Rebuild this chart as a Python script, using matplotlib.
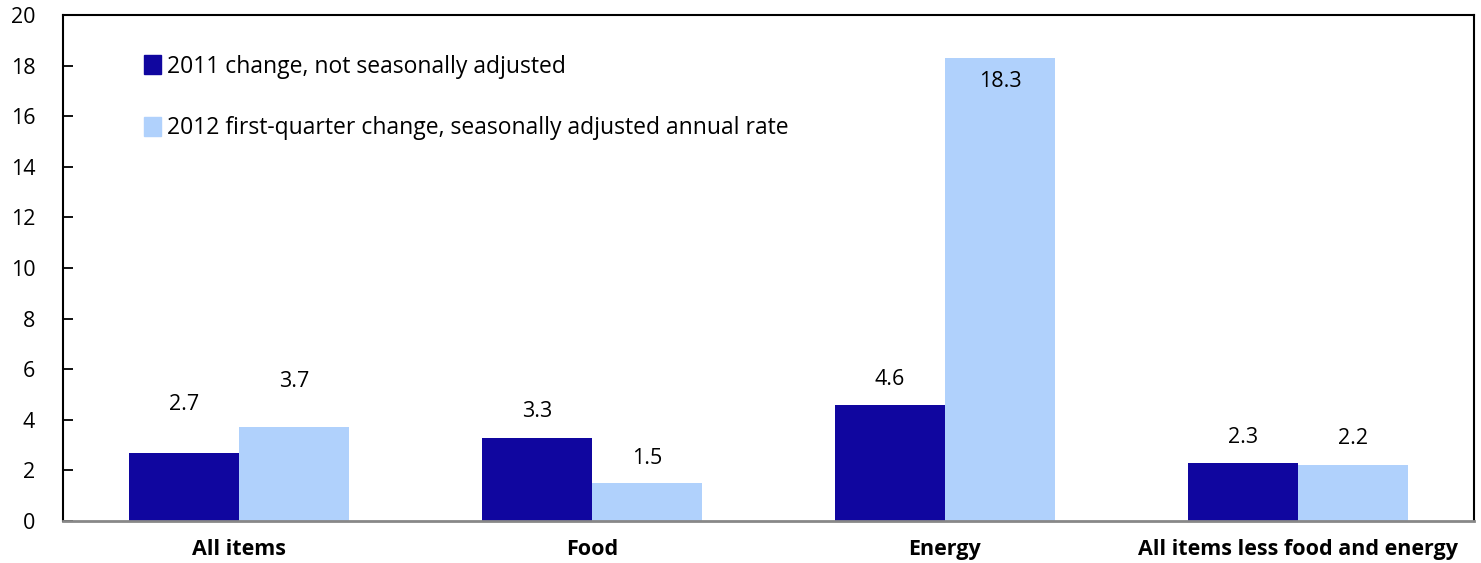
import numpy as np
import matplotlib.pyplot as plt
from matplotlib.patches import Patch

categories = ['All items', 'Food', 'Energy', 'All items less food and energy']
change_2011 = [2.7, 3.3, 4.6, 2.3]
change_2012q1 = [3.7, 1.5, 18.3, 2.2]
series_labels = ['2011 change, not seasonally adjusted',
                 '2012 first-quarter change, seasonally adjusted annual rate']

dark = '#10069F'
light = '#B0D1FC'

# label offsets (points) above bar tops, negative = inside bar
off_2011 = [35, 19, 18, 18]
off_2012 = [33, 18, -17, 19]

plt.rcParams['font.family'] = ['Open Sans', 'DejaVu Sans']
fs = 15.5

fig = plt.figure(figsize=(14.81, 5.63), dpi=100)
ax = fig.add_axes([63 / 1481, 1 - 521 / 563, (1474 - 63) / 1481, (521 - 15) / 563])

x = np.arange(len(categories))
w = 0.312
b1 = ax.bar(x - w / 2, change_2011, w, color=dark)
b2 = ax.bar(x + w / 2, change_2012q1, w, color=light)

for bars, offs in ((b1, off_2011), (b2, off_2012)):
    for bar, off in zip(bars, offs):
        h = bar.get_height()
        ax.annotate(f'{h:.1f}', (bar.get_x() + bar.get_width() / 2, h),
                    xytext=(0, off), textcoords='offset points',
                    ha='center', va='center', fontsize=fs)

ax.set_xlim(-0.5, len(categories) - 0.5)
ax.set_ylim(0, 20)
ax.set_yticks(range(0, 21, 2))
ax.tick_params(axis='y', direction='in', length=7, width=1.3, labelsize=fs, pad=20)
ax.tick_params(axis='x', length=0, labelsize=fs, pad=13)
ax.set_xticks(x)
ax.set_xticklabels(categories, fontweight='bold')

for s in ('left', 'top', 'right'):
    ax.spines[s].set_linewidth(1.5)
    ax.spines[s].set_color('black')
ax.spines['bottom'].set_color('#888888')
ax.spines['bottom'].set_linewidth(2)

handles = [Patch(color=dark), Patch(color=light)]
ax.legend(handles, series_labels, loc='upper left', bbox_to_anchor=(0.051, 0.94),
          frameon=False, fontsize=16.5, handlelength=0.75, handleheight=0.9,
          handletextpad=0.25, labelspacing=1.65, borderaxespad=0)

fig.savefig('out.png', dpi=100)
